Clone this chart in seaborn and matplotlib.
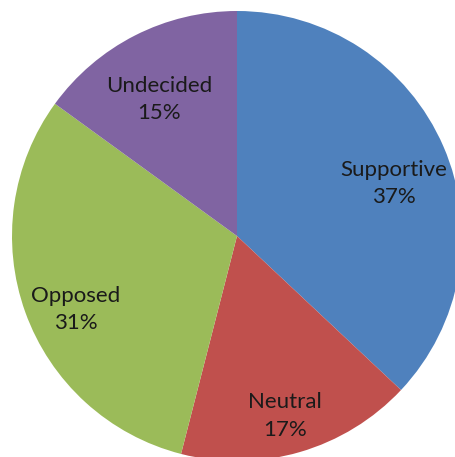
import matplotlib
matplotlib.use("Agg")
import matplotlib.pyplot as plt
import seaborn as sns

# dane z wykresu
categories = ["Supportive", "Neutral", "Opposed", "Undecided"]
shares = [37, 17, 31, 15]
colors = ["#4F81BD", "#C0504D", "#9BBB59", "#8064A2"]

sns.set_theme(style="white")
plt.rcParams["font.family"] = ["Lato", "DejaVu Sans"]

fig = plt.figure(figsize=(4.56, 4.57), dpi=100)
ax = fig.add_axes([0, 0, 1, 1])

labels = [f"{c}\n{s}%" for c, s in zip(categories, shares)]
wedges, texts = ax.pie(shares, labels=labels, colors=colors, startangle=90,
                       counterclock=False, labeldistance=0.76,
                       wedgeprops=dict(linewidth=0),
                       textprops=dict(fontsize=16, color="#1a1a1a"))
for t in texts:
    t.set_horizontalalignment("center")
    t.set_verticalalignment("center")
    t.set_linespacing(1.45)
    # etykiety w oryginale siedza troche nizej
    x, y = t.get_position()
    t.set_position((x, y - 0.07))

# wykres jest przyciety jak w oryginale
ax.set_aspect("equal")
ax.set_xlim(-237 / 225, (456 - 237) / 225)
ax.set_ylim((236 - 457) / 225, 236 / 225)
ax.axis("off")

fig.savefig("out.png", dpi=100)
